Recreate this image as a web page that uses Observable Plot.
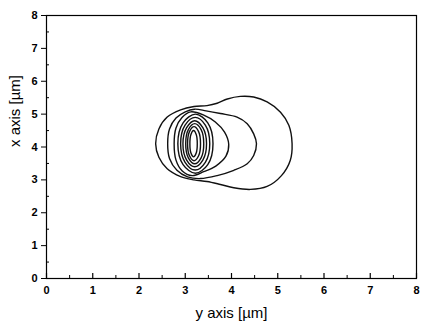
<!DOCTYPE html>
<html><head><meta charset="utf-8">
<script src="https://cdn.jsdelivr.net/npm/d3@7"></script>
<script src="https://cdn.jsdelivr.net/npm/@observablehq/plot@0.6"></script>
<style>body{margin:0;background:#fff} svg{display:block}</style>
</head><body><div id="chart"></div>
<script>
const xTicks = [0, 1, 2, 3, 4, 5, 6, 7, 8];
const yTicks = [0, 1, 2, 3, 4, 5, 6, 7, 8];
const minorTicks = [0.5, 1.5, 2.5, 3.5, 4.5, 5.5, 6.5, 7.5];

// contour lines: [horizontal (y axis µm), vertical (x axis µm)]
const contourOuter = [[2.36,4.10],[2.43,4.55],[2.61,4.91],[2.90,5.13],[3.19,5.23],[3.47,5.26],[3.69,5.33],[3.91,5.46],[4.19,5.54],[4.48,5.52],[4.77,5.37],[5.06,5.06],[5.24,4.66],[5.31,4.10],[5.27,3.59],[5.08,3.13],[4.77,2.80],[4.41,2.71],[4.05,2.76],[3.76,2.86],[3.47,2.95],[3.19,3.00],[2.90,3.10],[2.61,3.34],[2.43,3.69]];
const contour2 = [[2.62,4.10],[2.66,4.55],[2.80,4.88],[3.00,5.07],[3.20,5.15],[3.45,5.10],[3.76,5.02],[4.12,4.91],[4.34,4.71],[4.48,4.40],[4.54,4.10],[4.48,3.74],[4.34,3.49],[4.05,3.29],[3.69,3.13],[3.33,3.04],[3.05,3.09],[2.82,3.29],[2.66,3.65]];
const contour3 = [[2.76,4.10],[2.80,4.58],[2.93,4.90],[3.12,5.07],[3.40,4.97],[3.65,4.76],[3.85,4.45],[3.94,4.08],[3.88,3.72],[3.66,3.42],[3.40,3.25],[3.15,3.13],[2.93,3.28],[2.80,3.60]];
const contour4 = [[2.84,4.10],[2.953,4.736],[3.22,5.00],[3.487,4.736],[3.60,4.10],[3.487,3.464],[3.22,3.20],[2.953,3.464]];
const contour5 = [[2.90,4.10],[2.996,4.666],[3.215,4.90],[3.434,4.666],[3.53,4.10],[3.434,3.534],[3.215,3.30],[2.996,3.534]];
const contour6 = [[2.95,4.10],[3.030,4.586],[3.205,4.80],[3.380,4.586],[3.46,4.10],[3.380,3.604],[3.205,3.40],[3.030,3.604]];
const contour7 = [[3.01,4.10],[3.067,4.530],[3.205,4.71],[3.343,4.530],[3.40,4.10],[3.343,3.670],[3.205,3.49],[3.067,3.670]];
const contour8 = [[3.05,4.10],[3.091,4.468],[3.19,4.62],[3.289,4.468],[3.33,4.10],[3.289,3.732],[3.19,3.58],[3.091,3.732]];
const contour9 = [[3.10,4.10],[3.123,4.383],[3.18,4.50],[3.237,4.383],[3.26,4.10],[3.237,3.817],[3.18,3.70],[3.123,3.817]];

const xLabel = "y axis [µm]";
const yLabel = "x axis [µm]";

const contours = [contourOuter, contour2, contour3, contour4, contour5, contour6, contour7, contour8, contour9];
const rows = contours.flatMap((pts, i) => pts.map(([x, y]) => ({x, y, level: i})));

const W = 422, H = 323, ML = 46, MR = 6, MT = 15, MB = 45;
const PW = W - ML - MR, PH = H - MT - MB;

const chart = Plot.plot({
  width: W, height: H,
  marginLeft: ML, marginRight: MR, marginTop: MT, marginBottom: MB,
  x: {domain: [0, 8]},
  y: {domain: [0, 8]},
  style: {fontFamily: "'Liberation Sans', Arial, sans-serif", background: "#fff", color: "#000"},
  marks: [
    Plot.line(rows, {x: "x", y: "y", z: "level", curve: "catmull-rom-closed", stroke: "#111", strokeWidth: 1.4}),
    Plot.frame({stroke: "#000", strokeWidth: 1.2}),
    Plot.ruleX(xTicks, {x: d => d, insetTop: PH - 5, stroke: "#000", strokeWidth: 1.2}),
    Plot.ruleX(minorTicks, {x: d => d, insetTop: PH - 3, stroke: "#000"}),
    Plot.ruleY(minorTicks, {y: d => d, insetRight: PW - 3, stroke: "#000"}),
    Plot.axisX(xTicks, {tickSize: 0, tickPadding: 8, fontSize: 11, fontWeight: "bold", label: null}),
    Plot.axisY(yTicks, {tickSize: 5, tickPadding: 4, fontSize: 11, fontWeight: "bold", label: null}),
    Plot.text([xLabel], {text: d => d, frameAnchor: "bottom", dy: 35, lineAnchor: "middle", fontSize: 15}),
    Plot.text([yLabel], {text: d => d, frameAnchor: "left", dx: -31, rotate: -90, lineAnchor: "middle", fontSize: 15})
  ]
});
document.getElementById("chart").append(chart);
</script>
</body></html>
